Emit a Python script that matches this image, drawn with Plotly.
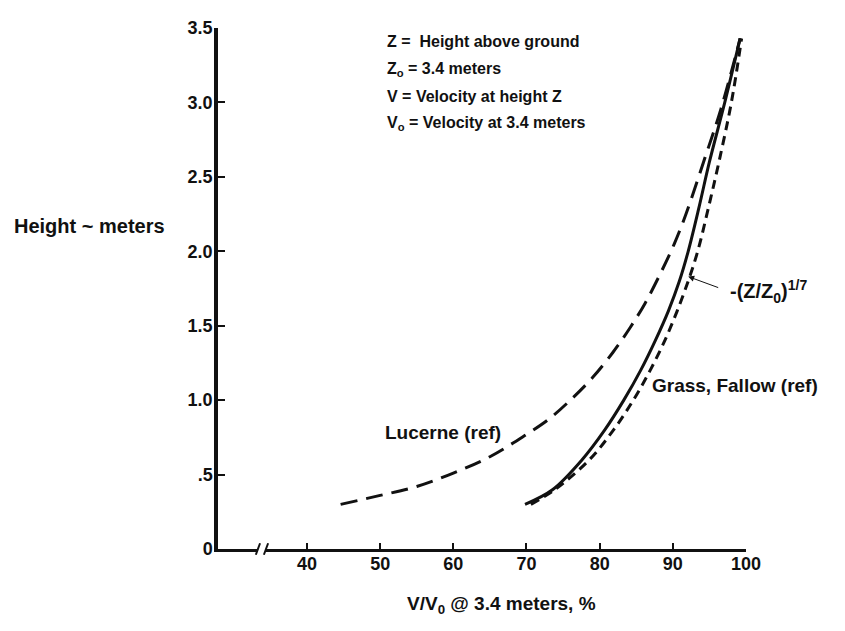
import plotly.graph_objects as go

# ---- data ----
lucerne_x = [44.6, 50.0, 55.0, 60.0, 65.0, 70.0, 73.0, 76.0, 79.0, 81.8, 84.2, 86.2, 88.4, 90.2, 91.8, 94.2, 96.6, 99.2]
lucerne_y = [0.30, 0.36, 0.42, 0.51, 0.62, 0.77, 0.87, 1.00, 1.15, 1.32, 1.49, 1.65, 1.86, 2.05, 2.25, 2.60, 2.96, 3.43]

grass_x = [69.8, 73.6, 77.6, 80.7, 83.3, 85.6, 87.6, 89.4, 90.9, 92.1, 93.6, 95.0, 97.1, 99.2]
grass_y = [0.30, 0.40, 0.60, 0.80, 1.00, 1.20, 1.40, 1.60, 1.80, 2.00, 2.30, 2.60, 3.00, 3.43]

power_x = [70.6, 73.9, 78.6, 81.9, 84.6, 86.9, 88.9, 90.6, 92.1, 93.4, 94.9, 96.3, 98.0, 99.4]
power_y = [0.30, 0.40, 0.60, 0.80, 1.00, 1.20, 1.40, 1.60, 1.80, 2.00, 2.30, 2.60, 3.00, 3.43]

x_ticks = [40, 50, 60, 70, 80, 90, 100]
y_ticks = [0, 0.5, 1.0, 1.5, 2.0, 2.5, 3.0, 3.5]
y_tick_text = ["0", ".5", "1.0", "1.5", "2.0", "2.5", "3.0", "3.5"]

info_lines = [
    "Z =  Height above ground",
    "Z<sub>o</sub> = 3.4 meters",
    "V = Velocity at height Z",
    "V<sub>o</sub> = Velocity at 3.4 meters",
]

X_MIN, X_MAX = 27.84, 100.0
FONT = "Liberation Sans"
BLACK = "#111111"

fig = go.Figure()
fig.add_trace(go.Scatter(x=lucerne_x, y=lucerne_y, mode="lines", line=dict(color=BLACK, width=3, dash="17px,9px"),
                         line_shape="spline", cliponaxis=False, showlegend=False))
fig.add_trace(go.Scatter(x=grass_x, y=grass_y, mode="lines", line=dict(color=BLACK, width=3),
                         line_shape="spline", cliponaxis=False, showlegend=False))
fig.add_trace(go.Scatter(x=power_x, y=power_y, mode="lines", line=dict(color=BLACK, width=3, dash="9px,6px"),
                         line_shape="spline", cliponaxis=False, showlegend=False))

def px(v):
    return (v - X_MIN) / (X_MAX - X_MIN)

# axis break on x axis
b1, b2 = 33.3, 34.4
fig.add_shape(type="rect", xref="paper", yref="paper", x0=px(b1), x1=px(b2), y0=-0.01, y1=0.01,
              fillcolor="white", line=dict(width=0), layer="above")
for b in (b1, b2):
    fig.add_shape(type="line", xref="paper", yref="paper", x0=px(b) - 0.004, x1=px(b) + 0.004,
                  y0=-0.011, y1=0.011, line=dict(color=BLACK, width=2), layer="above")

def f(size):
    return dict(family=FONT, size=size, color=BLACK)

ann = []
line_y = [3.41, 3.22, 3.04, 2.86]
for t, yy in zip(info_lines, line_y):
    ann.append(dict(x=50.7, y=yy, text="<b>" + t + "</b>", showarrow=False, xanchor="left", yanchor="middle", font=f(16)))
ann.append(dict(x=50.4, y=0.78, text="<b>Lucerne (ref)</b>", showarrow=False, xanchor="left", yanchor="middle", font=f(19)))
ann.append(dict(x=86.9, y=1.10, text="<b>Grass, Fallow (ref)</b>", showarrow=False, xanchor="left", yanchor="middle", font=f(19)))
ann.append(dict(x=92.1, y=1.83, ax=30, ay=11, text="", showarrow=True, arrowhead=2, arrowsize=1.2, arrowwidth=1,
                arrowcolor=BLACK, xanchor="left"))
ann.append(dict(x=97.6, y=1.73, text="<b>-(Z/Z<sub>0</sub>)<sup>1/7</sup></b>", showarrow=False, xanchor="left",
                yanchor="middle", font=f(20)))
ann.append(dict(xref="paper", yref="y", x=-0.097, y=2.17, text="<b>Height ~ meters</b>", showarrow=False,
                xanchor="right", yanchor="middle", font=f(20)))
ann.append(dict(xref="x", yref="paper", x=66.6, y=-0.107, text="<b>V/V<sub>0</sub> @ 3.4 meters, %</b>", showarrow=False,
                xanchor="center", yanchor="middle", font=f(19)))

fig.update_layout(
    width=837, height=623,
    margin=dict(l=210, r=99, t=10, b=82),
    plot_bgcolor="white", paper_bgcolor="white",
    font=dict(family=FONT, color=BLACK),
    annotations=ann,
    xaxis=dict(range=[X_MIN, X_MAX], showgrid=False, zeroline=False, showline=True, linecolor=BLACK, linewidth=2.5,
               ticks="inside", ticklen=6, tickwidth=2, tickcolor=BLACK, tickvals=x_ticks, ticklabelstandoff=-3,
               ticktext=["<b>%d</b>" % v for v in x_ticks], tickfont=f(18)),
    yaxis=dict(range=[0, 3.5], showgrid=False, zeroline=False, showline=True, linecolor=BLACK, linewidth=3.5,
               ticks="inside", ticklen=7, tickwidth=2, tickcolor=BLACK, tickvals=y_ticks, ticklabelstandoff=-2,
               ticktext=["<b>%s</b>" % t for t in y_tick_text], tickfont=f(18)),
)

fig.write_html("out.html")
